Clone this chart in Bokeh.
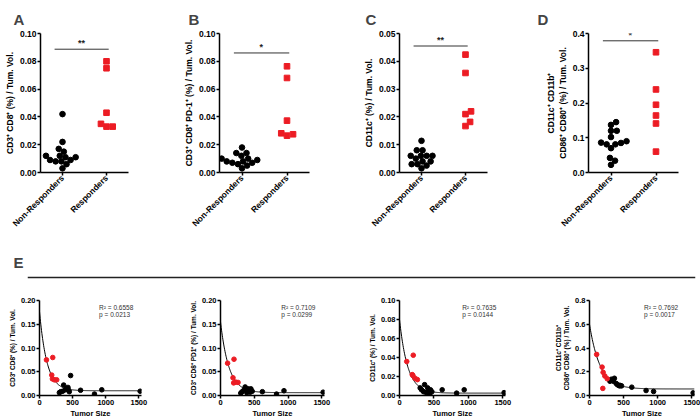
import math
import numpy as np
from bokeh.plotting import figure
from bokeh.models import Range1d, FixedTicker, NumeralTickFormatter, Label, Span
from bokeh.layouts import column, row
from bokeh.embed import file_html
from bokeh.resources import INLINE
from bokeh.core.properties import value

FONT = "Liberation Sans"
RED = "#ec1c24"

# ---------------- data ----------------
groups = ["Non-Responders", "Responders"]
panel_letters = ["A", "B", "C", "D"]

tumor_non = [300, 320, 350, 365, 390, 410, 430, 440, 450, 470, 620, 830, 940, 1520]
tumor_resp = [200, 105, 185, 195, 225, 260]

cd8_non = [0.006, 0.008, 0.009, 0.022, 0.012, 0.015, 0.017, 0.011, 0.008, 0.042, 0.011, 0.003, 0.012, 0.009]
cd8_resp = [0.080, 0.075, 0.043, 0.035, 0.033, 0.033]

pd1_non = [0.005, 0.008, 0.012, 0.018, 0.006, 0.014, 0.010, 0.007, 0.014, 0.009, 0.008, 0.003, 0.010, 0.007]
pd1_resp = [0.0764, 0.068, 0.0373, 0.0265, 0.0282, 0.0275]

cd11c_non = [0.008, 0.006, 0.004, 0.0114, 0.003, 0.008, 0.005, 0.0015, 0.006, 0.004, 0.006, 0.0025, 0.006, 0.003]
cd11c_resp = [0.0424, 0.0358, 0.022, 0.021, 0.0182, 0.0167]

cd86_non = [0.12, 0.137, 0.12, 0.145, 0.102, 0.09, 0.086, 0.081, 0.085, 0.081, 0.07, 0.042, 0.034, 0.022]
cd86_resp = [0.195, 0.346, 0.239, 0.060, 0.164, 0.141]

top_ylabels = ["CD3\u207a CD8\u207a (%) / Tum. Vol.",
               "CD3\u207a CD8\u207a PD-1\u207a (%) / Tum. Vol.",
               "CD11c\u207a (%) / Tum. Vol.",
               "CD11c\u207a CD11b\u207a\nCD86\u207a CD80\u207a (%) / Tum. Vol."]
bottom_ylabels = ["CD3\u207a CD8\u207a (%) / Tum. Vol.",
                  "CD3\u207a CD8\u207a PD1\u207a (%) / Tum. Vol.",
                  "CD11c\u207a (%) / Tum. Vol.",
                  "CD11c\u207a CD11b\u207a\nCD86\u207a CD80\u207a (%) / Tum. Vol."]

top_yticks = [[0, 0.02, 0.04, 0.06, 0.08, 0.10],
              [0, 0.02, 0.04, 0.06, 0.08, 0.10],
              [0, 0.01, 0.02, 0.03, 0.04, 0.05],
              [0, 0.1, 0.2, 0.3, 0.4]]
top_fmt = ["0.00", "0.00", "0.00", "0.0"]
bottom_yticks = [[0, 0.05, 0.10, 0.15, 0.20],
                 [0, 0.05, 0.10, 0.15, 0.20],
                 [0, 0.02, 0.04, 0.06, 0.08, 0.10],
                 [0, 0.2, 0.4, 0.6, 0.8]]
bottom_fmt = ["0.00", "0.00", "0.00", "0.0"]
tumor_ticks = [0, 500, 1000, 1500]
x_label = "Tumor Size"

sig_stars = ["**", "*", "**", "*"]
sig_y = [0.0887, 0.086, 0.0455, 0.379]

fit_top = [0.177, 0.155, 0.080, 0.60]
fit_plateau = [0.010, 0.006, 0.0025, 0.055]
fit_k = [0.009, 0.0081, 0.0085, 0.0065]
r2_text = ["0.6558", "0.7109", "0.7635", "0.7692"]
p_text = ["0.0213", "0.0299", "0.0144", "0.0017"]

series_non = [cd8_non, pd1_non, cd11c_non, cd86_non]
series_resp = [cd8_resp, pd1_resp, cd11c_resp, cd86_resp]


# ---------------- helpers ----------------
def swarm(vals, center, ymax, frame_h, frame_w, xspan, d):
    sy = frame_h / ymax
    sx = frame_w / xspan
    placed = []
    xs = [0.0] * len(vals)
    order = sorted(range(len(vals)), key=lambda i: vals[i])
    for i in order:
        y = vals[i] * sy
        cands = [0.0]
        for (px, py) in placed:
            dy = abs(py - y)
            if dy < d:
                dx = math.sqrt(d * d - dy * dy)
                cands += [px + dx, px - dx]
        cands.sort(key=lambda c: (round(abs(c), 6), -c))
        chosen = cands[-1]
        for c in cands:
            if all((c - px) ** 2 + (y - py) ** 2 >= d * d - 1e-6 for px, py in placed):
                chosen = c
                break
        placed.append((chosen, y))
        xs[i] = center + chosen / sx
    return xs


def style_axes(p, tick_size, label_size, tick_out=3):
    for ax in (p.xaxis[0], p.yaxis[0]):
        ax.axis_line_width = 1.5
        ax.axis_line_color = "black"
        ax.major_tick_line_width = 1.5
        ax.major_tick_line_color = "black"
        ax.major_tick_out = tick_out
        ax.major_tick_in = 0
        ax.minor_tick_line_color = None
        ax.major_label_text_font = FONT
        ax.major_label_text_font_style = "bold"
        ax.major_label_text_font_size = tick_size
        ax.major_label_text_color = "black"
        ax.major_label_standoff = 1
        ax.axis_label_text_font = FONT
        ax.axis_label_text_font_style = "bold"
        ax.axis_label_text_font_size = label_size
        ax.axis_label_text_color = "black"
        ax.axis_label_standoff = 2


def base(w, h, L, R, T, B, xr, yr):
    p = figure(width=w, height=h, x_range=xr, y_range=yr,
               output_backend="svg", toolbar_location=None,
               min_border_left=L, min_border_right=R,
               min_border_top=T, min_border_bottom=B)
    p.xgrid.visible = False
    p.ygrid.visible = False
    p.outline_line_color = None
    p.background_fill_color = "white"
    p.border_fill_color = "white"
    return p


def letter(p, txt, off, standoff):
    p.title.text = txt
    p.title.text_font = FONT
    p.title.text_font_size = "15px"
    p.title.text_font_style = "bold"
    p.title.align = "left"
    p.title.offset = off
    p.title.standoff = standoff


# ---------------- top row ----------------
top_w = [175, 175, 175, 175]
top_L = [40, 44, 49, 63]
top_R = [47, 41, 38, 22]
letter_off = [-27, -31, -34, -51]
TOP_H, TOP_T, TOP_B = 247, 33, 75

top_figs = []
for i in range(4):
    ymax = top_yticks[i][-1]
    p = base(top_w[i], TOP_H, top_L[i], top_R[i], TOP_T, TOP_B,
             Range1d(0.5, 2.5), Range1d(0, ymax))
    letter(p, panel_letters[i], letter_off[i], 12)
    style_axes(p, "8.5px", "8.5px")
    p.yaxis[0].ticker = FixedTicker(ticks=top_yticks[i])
    p.yaxis[0].formatter = NumeralTickFormatter(format=top_fmt[i])
    p.yaxis[0].axis_label = top_ylabels[i]
    p.xaxis[0].ticker = FixedTicker(ticks=[1, 2])
    p.xaxis[0].major_label_overrides = {1: groups[0], 2: groups[1]}
    p.xaxis[0].major_label_orientation = math.pi / 4

    fw = top_w[i] - top_L[i] - top_R[i]
    fh = TOP_H - TOP_T - TOP_B
    xn = swarm(series_non[i], 1, ymax, fh, fw, 2.0, 5.8)
    xr_ = swarm(series_resp[i], 2, ymax, fh, fw, 2.0, 6.2)
    p.scatter(xn, series_non[i], marker="circle", size=5.6,
              fill_color="black", line_color="black")
    p.scatter(xr_, series_resp[i], marker="square", size=5.6,
              fill_color=RED, line_color=RED)
    p.segment(x0=[0.82], y0=[sig_y[i]], x1=[2.05], y1=[sig_y[i]],
              line_color="#333333", line_width=1)
    p.text(x=[1.43], y=[sig_y[i]], text=[sig_stars[i]], y_offset=-1,
           text_font=value(FONT), text_font_size="9px", text_font_style="bold",
           text_align="center", text_baseline="bottom", text_color="#222222")
    top_figs.append(p)

# ---------------- header E ----------------
hdr = figure(width=700, height=36, x_range=Range1d(0, 1), y_range=Range1d(-1, 1),
             output_backend="svg", toolbar_location=None,
             x_axis_type=None, y_axis_type=None,
             min_border_left=27, min_border_right=5,
             min_border_top=24, min_border_bottom=0)
hdr.xgrid.visible = False
hdr.ygrid.visible = False
hdr.outline_line_color = None
letter(hdr, "E", -14, 2)
hdr.add_layout(Span(location=0, dimension="width", line_color="#222222", line_width=1.5))

# ---------------- bottom row ----------------
bot_w = [175, 175, 175, 175]
bot_L = [39, 45, 49, 64]
bot_R = [34, 26, 20, 6]
BOT_H, BOT_T, BOT_B = 137, 17, 22
r2_x = [900, 900, 910, 800]

bot_figs = []
for i in range(4):
    ymax = bottom_yticks[i][-1]
    p = base(bot_w[i], BOT_H, bot_L[i], bot_R[i], BOT_T, BOT_B,
             Range1d(0, 1540), Range1d(0, ymax))
    style_axes(p, "7.5px", "6.5px", tick_out=3)
    p.xaxis[0].axis_label_text_font_size = "7.5px"
    p.xaxis[0].axis_label_standoff = 1
    p.yaxis[0].ticker = FixedTicker(ticks=bottom_yticks[i])
    p.yaxis[0].formatter = NumeralTickFormatter(format=bottom_fmt[i])
    p.yaxis[0].axis_label = bottom_ylabels[i]
    p.xaxis[0].ticker = FixedTicker(ticks=tumor_ticks)
    p.xaxis[0].formatter = NumeralTickFormatter(format="0")
    p.xaxis[0].axis_label = x_label

    xs = np.linspace(0, 1540, 300)
    ys = fit_plateau[i] + (fit_top[i] - fit_plateau[i]) * np.exp(-fit_k[i] * xs)
    p.line(xs, ys, line_color="black", line_width=1)
    p.scatter(tumor_non, series_non[i], marker="circle", size=4.6,
              fill_color="black", line_color="black")
    p.scatter(tumor_resp, series_resp[i], marker="circle", size=4.6,
              fill_color=RED, line_color=RED)
    for j, txt in enumerate(["R\u00b2 = " + r2_text[i], "p = " + p_text[i]]):
        p.add_layout(Label(x=r2_x[i], y=ymax * 0.93, y_offset=-7 * j, text=txt,
                           text_font=FONT, text_font_size="6.5px",
                           text_color="#333333", text_baseline="middle"))
    bot_figs.append(p)

layout = column(row(*top_figs), hdr, row(*bot_figs))
open("out.html", "w").write(file_html(layout, INLINE))
